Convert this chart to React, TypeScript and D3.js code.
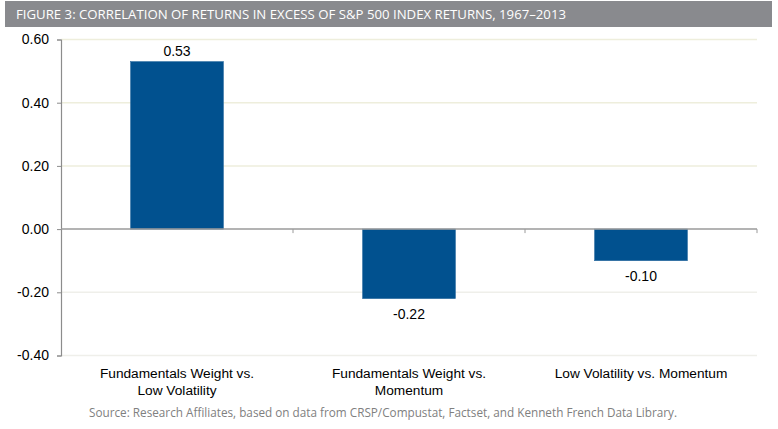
import React, { useEffect, useRef } from 'react';
import * as d3 from 'd3';

const categories: string[][] = [
  ["Fundamentals Weight vs.", "Low Volatility"],
  ["Fundamentals Weight vs.", "Momentum"],
  ["Low Volatility vs. Momentum"],
];
const values: number[] = [0.53, -0.22, -0.10];
const yTicks: number[] = [0.6, 0.4, 0.2, 0, -0.2, -0.4];

const title = "FIGURE 3: CORRELATION OF RETURNS IN EXCESS OF S&P 500 INDEX RETURNS, 1967–2013";
const source = "Source: Research Affiliates, based on data from CRSP/Compustat, Factset, and Kenneth French Data Library.";

// hyphen-minus like the original, not d3's unicode minus
const fmt = (d: number) => d3.format(".2f")(d).replace("\u2212", "-");

const App: React.FC = () => {
  const svgRef = useRef<SVGSVGElement | null>(null);

  useEffect(() => {
    if (!svgRef.current) return;
    document.body.style.margin = "0";

    const W = 778;
    const H = 429;
    const margin = { left: 61, right: 21, top: 39.5, bottom: 73.5 };
    const plotW = W - margin.left - margin.right;
    const plotH = H - margin.top - margin.bottom;

    const root = d3.select(svgRef.current);
    root.selectAll("*").remove();
    root.attr("width", W).attr("height", H);

    // Title bar
    root.append("rect")
      .attr("x", 5).attr("y", 1)
      .attr("width", 767).attr("height", 26)
      .attr("fill", "#898a8e");
    root.append("text")
      .attr("x", 16).attr("y", 18.5)
      .attr("fill", "#ffffff")
      .attr("font-family", "'Open Sans', sans-serif")
      .attr("font-size", 12.5)
      .attr("textLength", 550)
      .attr("lengthAdjust", "spacingAndGlyphs")
      .text(title);

    const svg = root.append("g")
      .attr("transform", `translate(${margin.left},${margin.top})`);

    const xScale = d3.scaleBand<number>()
      .domain(d3.range(values.length))
      .range([0, plotW])
      .paddingInner(0.6)
      .paddingOuter(0.3);

    const yScale = d3.scaleLinear()
      .domain([-0.4, 0.6])
      .range([plotH, 0]);

    // Gridlines
    svg.selectAll(".grid")
      .data(yTicks.filter(t => t !== 0))
      .enter()
      .append("line")
      .attr("x1", 0).attr("x2", plotW)
      .attr("y1", d => yScale(d)).attr("y2", d => yScale(d))
      .attr("stroke", d => d > 0 ? "#eeeedc" : "#efefea")
      .attr("stroke-width", 1.5);

    // Y axis
    const yAxis = svg.append("g")
      .call(d3.axisLeft(yScale).tickValues(yTicks).tickSize(4).tickPadding(8)
        .tickFormat(d => fmt(+d)));
    yAxis.select(".domain").attr("stroke", "#8c8c8c").attr("stroke-width", 1.2);
    yAxis.selectAll(".tick line").attr("stroke", "#8c8c8c");
    yAxis.selectAll(".tick text")
      .attr("font-family", "Arial, 'Liberation Sans', sans-serif")
      .attr("font-size", 14)
      .attr("fill", "#000");

    // Bars
    svg.selectAll(".bar")
      .data(values)
      .enter()
      .append("rect")
      .attr("x", (_, i) => xScale(i) as number)
      .attr("width", xScale.bandwidth())
      .attr("y", d => yScale(Math.max(0, d)))
      .attr("height", d => Math.abs(yScale(d) - yScale(0)))
      .attr("fill", "#01518f")
      .attr("stroke", "#2a6aa0")
      .attr("stroke-width", 0.6);

    // Zero line with category ticks
    svg.append("line")
      .attr("x1", 0).attr("x2", plotW)
      .attr("y1", yScale(0)).attr("y2", yScale(0))
      .attr("stroke", "#9a9a9a")
      .attr("stroke-width", 1.5);
    const step = plotW / values.length;
    svg.selectAll(".ctick")
      .data(d3.range(1, values.length + 1))
      .enter()
      .append("line")
      .attr("x1", d => d * step).attr("x2", d => d * step)
      .attr("y1", yScale(0)).attr("y2", yScale(0) + 4)
      .attr("stroke", "#9a9a9a");

    // Value labels
    svg.selectAll(".val")
      .data(values)
      .enter()
      .append("text")
      .attr("x", (_, i) => (xScale(i) as number) + xScale.bandwidth() / 2)
      .attr("y", d => d >= 0 ? yScale(d) - 6 : yScale(d) + 20)
      .attr("text-anchor", "middle")
      .attr("font-family", "Arial, 'Liberation Sans', sans-serif")
      .attr("font-size", 14)
      .attr("fill", "#000")
      .text(d => fmt(d));

    // Category labels
    categories.forEach((lines, i) => {
      const t = svg.append("text")
        .attr("x", (xScale(i) as number) + xScale.bandwidth() / 2)
        .attr("y", plotH + 22)
        .attr("text-anchor", "middle")
        .attr("font-family", "Arial, 'Liberation Sans', sans-serif")
        .attr("font-size", 13.7)
        .attr("fill", "#000");
      lines.forEach((ln, j) => {
        t.append("tspan")
          .attr("x", (xScale(i) as number) + xScale.bandwidth() / 2)
          .attr("dy", j === 0 ? 0 : 17)
          .text(ln);
      });
    });

    // Source
    root.append("text")
      .attr("x", 89).attr("y", 416.5)
      .attr("fill", "#808080")
      .attr("font-family", "'Open Sans', sans-serif")
      .attr("font-size", 12)
      .attr("textLength", 588)
      .attr("lengthAdjust", "spacingAndGlyphs")
      .text(source);
  }, []);

  return (
    <div>
      <svg ref={svgRef} style={{ display: 'block' }}></svg>
    </div>
  );
};

export default App;
